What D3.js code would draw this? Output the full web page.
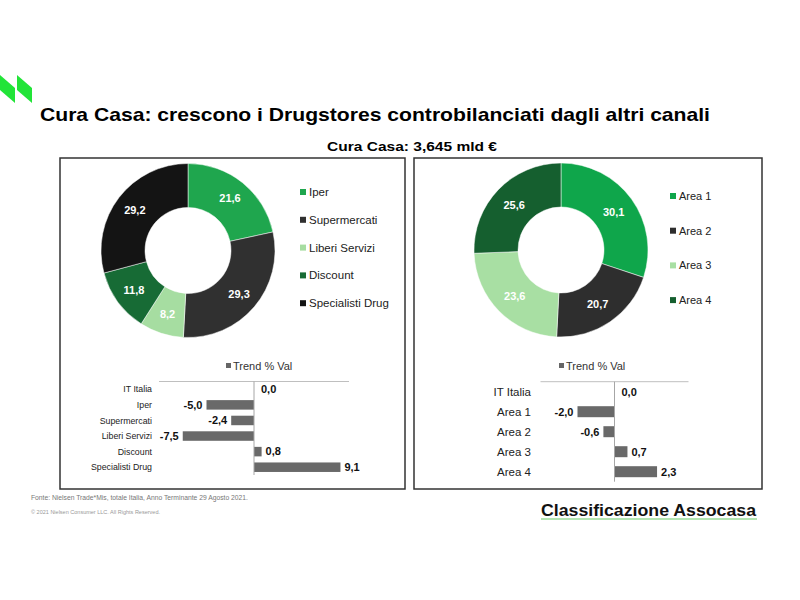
<!DOCTYPE html>
<html><head><meta charset="utf-8">
<script src="https://cdn.jsdelivr.net/npm/d3@7"></script>
<style>
html,body{margin:0;padding:0;background:#fff;}
text{font-family:"Liberation Sans",Arial,sans-serif;}
</style></head>
<body>
<svg id="c" width="800" height="600"></svg>
<script>
// ---- data ----
const channelCats = ["Iper","Supermercati","Liberi Servizi","Discount","Specialisti Drug"];
const channelShare = [21.6, 29.3, 8.2, 11.8, 29.2];
const channelColors = ["#1fa64e","#303030","#a6dda1","#176b35","#141414"];

const areaCats = ["Area 1","Area 2","Area 3","Area 4"];
const areaShare = [30.1, 20.7, 23.6, 25.6];
const areaColors = ["#0fa64b","#2e2e2e","#a8dfa3","#155f2f"];

const trendChannelCats = ["IT Italia","Iper","Supermercati","Liberi Servizi","Discount","Specialisti Drug"];
const trendChannelVals = [0.0, -5.0, -2.4, -7.5, 0.8, 9.1];

const trendAreaCats = ["IT Italia","Area 1","Area 2","Area 3","Area 4"];
const trendAreaVals = [0.0, -2.0, -0.6, 0.7, 2.3];

const fmt = v => v.toFixed(1).replace(".", ",");

const svg = d3.select("#c");

// logo
const logo = svg.append("g").attr("fill","#22e438");
[0,17].forEach(dx=>{
  logo.append("path").attr("d",`M${dx},75 L${dx+15},88 L${dx+15},103 L${dx},90 Z`);
});

// title
svg.append("text").attr("x",40).attr("y",121).attr("font-size",18.5).attr("font-weight","bold").attr("fill","#000")
  .attr("textLength",670).attr("lengthAdjust","spacingAndGlyphs")
  .text("Cura Casa: crescono i Drugstores controbilanciati dagli altri canali");
svg.append("text").attr("x",327).attr("y",151).attr("font-size",13.5).attr("font-weight","bold").attr("fill","#000")
  .attr("textLength",170).attr("lengthAdjust","spacingAndGlyphs")
  .text("Cura Casa: 3,645 mld €");

// boxes
svg.append("rect").attr("x",60).attr("y",158).attr("width",345).attr("height",331).attr("fill","none").attr("stroke","#333").attr("stroke-width",1.5);
svg.append("rect").attr("x",414).attr("y",158).attr("width",348).attr("height",331).attr("fill","none").attr("stroke","#333").attr("stroke-width",1.5);

function donut(cx, cy, cats, vals, colors, legendX, legendY0, legendStep, fontSize, labelR){
  const g = svg.append("g").attr("transform",`translate(${cx},${cy})`);
  const pie = d3.pie().sort(null).value(d=>d.v);
  const data = pie(cats.map((c,i)=>({c, v:vals[i], col:colors[i]})));
  const arc = d3.arc().innerRadius(43).outerRadius(87);
  g.selectAll("path").data(data).join("path").attr("d",arc).attr("fill",d=>d.data.col).attr("stroke","#fff").attr("stroke-width",0.5);
  const la = d3.arc().innerRadius(labelR).outerRadius(labelR);
  g.selectAll("text").data(data).join("text")
    .attr("transform",d=>`translate(${la.centroid(d)})`)
    .attr("text-anchor","middle").attr("dy","0.35em")
    .attr("font-size",11).attr("font-weight","bold").attr("fill","#fff")
    .text(d=>fmt(d.data.v));
  const lg = svg.append("g");
  const ly = d3.scalePoint().domain(cats).range([legendY0, legendY0 + legendStep*(cats.length-1)]);
  cats.forEach((c,i)=>{
    lg.append("rect").attr("x",legendX).attr("y",ly(c)-3).attr("width",6).attr("height",6).attr("fill",colors[i]);
    lg.append("text").attr("x",legendX+9).attr("y",ly(c)).attr("dy","0.35em").attr("font-size",fontSize).attr("fill","#222").text(c);
  });
}
donut(188, 250.5, channelCats, channelShare, channelColors, 300, 192, 27.8, 11.5, 67);
donut(561, 250, areaCats, areaShare, areaColors, 670, 196, 34.7, 11, 65);

function bars(cats, vals, xDom, xRange, yRange, pad, labelX, catFont, legendCx){
  const x = d3.scaleLinear().domain(xDom).range(xRange);
  const y = d3.scaleBand().domain(cats).range(yRange).paddingInner(pad).paddingOuter(pad/2);
  const g = svg.append("g");
  // legend
  g.append("text").attr("x",legendCx+4).attr("y",366).attr("dy","0.35em").attr("font-size",11).attr("fill","#333").text("Trend % Val");
  g.append("rect").attr("x",legendCx-3).attr("y",363).attr("width",5).attr("height",5).attr("fill","#666");
  // top gridline
  g.append("line").attr("x1",xRange[0]).attr("x2",xRange[1]).attr("y1",yRange[0]).attr("y2",yRange[0]).attr("stroke","#bfbfbf").attr("stroke-width",1);
  // bars
  g.selectAll("rect.bar").data(vals).join("rect").attr("class","bar")
    .attr("x",d=>Math.min(x(0),x(d))).attr("width",d=>Math.abs(x(d)-x(0)))
    .attr("y",(d,i)=>y(cats[i])).attr("height",y.bandwidth()).attr("fill","#696969");
  // zero axis
  g.append("line").attr("x1",x(0)).attr("x2",x(0)).attr("y1",yRange[0]).attr("y2",yRange[1]).attr("stroke","#a6a6a6").attr("stroke-width",1);
  // category labels
  g.selectAll("text.cat").data(cats).join("text").attr("class","cat")
    .attr("x",labelX).attr("y",d=>y(d)+y.bandwidth()/2).attr("dy","0.35em").attr("text-anchor","end")
    .attr("font-size",catFont).attr("fill","#222").text(d=>d);
  // value labels
  g.selectAll("text.val").data(vals).join("text").attr("class","val")
    .attr("x",d=>d<0 ? x(d)-4 : x(d)+(d===0?7:4))
    .attr("y",(d,i)=>y(cats[i])+y.bandwidth()/2).attr("dy","0.35em")
    .attr("text-anchor",d=>d<0?"end":"start")
    .attr("font-size",11).attr("font-weight","bold").attr("fill","#111").text(d=>fmt(d));
}
bars(trendChannelCats, trendChannelVals, [-10,10], [159,349], [381.5,475], 0.39, 152, 8.8, 229);
bars(trendAreaCats, trendAreaVals, [-4,4], [540.5,688.5], [381.7,481.7], 0.45, 531, 11.5, 562);

// footer
svg.append("text").attr("x",31).attr("y",500).attr("font-size",6.6).attr("fill","#777")
  .attr("textLength",217).attr("lengthAdjust","spacingAndGlyphs")
  .text("Fonte: Nielsen Trade*Mis, totale Italia, Anno Terminante 29 Agosto 2021.");
svg.append("text").attr("x",31).attr("y",514).attr("font-size",5.3).attr("fill","#999")
  .attr("textLength",129).attr("lengthAdjust","spacingAndGlyphs")
  .text("© 2021 Nielsen Consumer LLC. All Rights Reserved.");
svg.append("text").attr("x",541).attr("y",516).attr("font-size",16.5).attr("font-weight","bold").attr("fill","#111")
  .attr("textLength",215).attr("lengthAdjust","spacingAndGlyphs")
  .text("Classificazione Assocasa");
svg.append("line").attr("x1",541).attr("x2",757).attr("y1",519).attr("y2",519).attr("stroke","#66cc66").attr("stroke-width",1.2);
</script>
</body></html>
